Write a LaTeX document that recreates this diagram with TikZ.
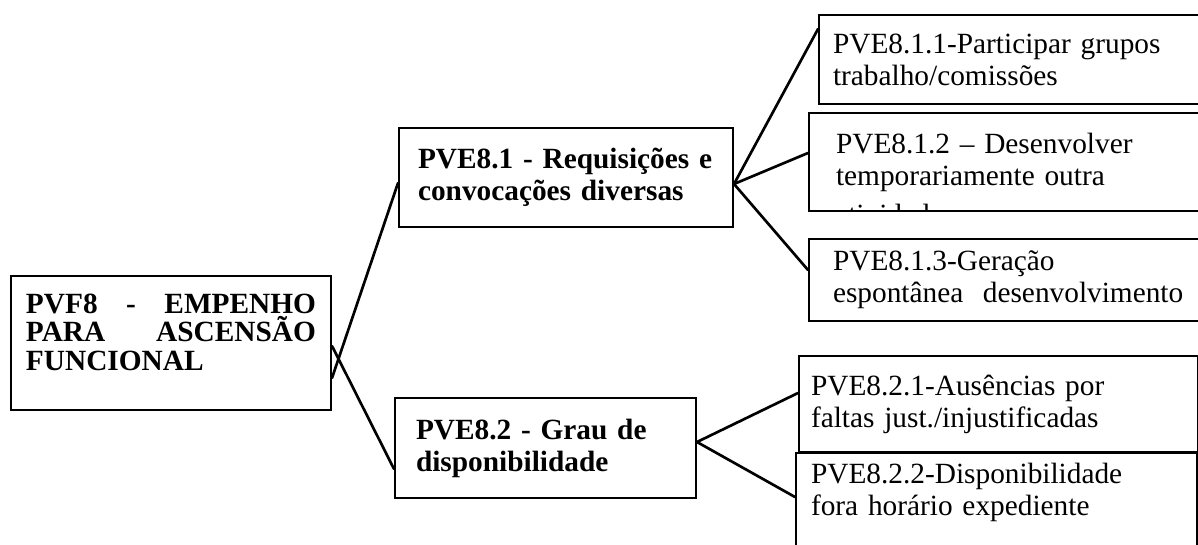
\documentclass[tikz,border=0pt]{standalone}
\usepackage{fontspec}
\setmainfont{Liberation Serif}
\usetikzlibrary{calc}

\begin{document}
\begin{tikzpicture}[x=0.75pt,y=0.75pt,yscale=-1,
  box/.style={draw, line width=1.5pt, anchor=north west, inner ysep=0pt, align=left,
    font=\fontsize{22}{24}\selectfont},
  head/.style={box, font=\fontsize{22}{24}\selectfont\bfseries},
  link/.style={line width=2pt, line cap=round}]
\useasboundingbox (0,0) rectangle (1198,545);
\fill[white] (0,0) rectangle (1198,545);
\clip (0,0) rectangle (1198,545);

% Root
\node[head, align=justify, font=\fontsize{22}{21.5}\selectfont\bfseries, inner xsep=11.25pt,
  text width=217.5pt, text height=27.75pt, text depth=72.75pt] (root) at (10,275)
  {\hyphenpenalty=10000 PVF8 - EMPENHO PARA ASCENSÃO FUNCIONAL};

% Second level
\node[head, inner xsep=14.25pt, text width=222pt, minimum height=74.25pt] (b81) at (398,127)
  {PVE8.1 - Requisições e\\convocações diversas};
\node[head, inner xsep=15.75pt, text width=194.25pt, minimum height=75pt] (b82) at (394,397)
  {PVE8.2 - Grau de\\disponibilidade};

% Leaves of PVE8.1
\node[box, inner xsep=10.5pt, text width=276.75pt, minimum height=66.75pt] (n811) at (818,14)
  {PVE8.1.1-Participar grupos\\trabalho/comissões};
\node[box, inner xsep=20.25pt, text width=264.75pt, minimum height=73.5pt] (n812) at (808,112)
  {PVE8.1.2 – Desenvolver\\temporariamente outra};
\begin{scope}
  \clip (n812.north west) rectangle (n812.south east);
  \node[font=\fontsize{22}{24}\selectfont, anchor=base west, inner sep=0pt] (n812x) at (835,224) {atividade};
\end{scope}
\node[box, inner xsep=18pt, text width=269.25pt, minimum height=61.5pt] (n813) at (808,238)
  {PVE8.1.3-Geração\\espontânea\ \ desenvolvimento};

% Leaves of PVE8.2
\node[box, inner xsep=9pt, text width=281.25pt, minimum height=72pt] (n821) at (798,355)
  {PVE8.2.1-Ausências por\\faltas just./injustificadas};
\node[box, inner xsep=11.25pt, text width=278.25pt, text height=22.5pt, text depth=58.5pt] (n822) at (795,452)
  {PVE8.2.2-Disponibilidade\\fora horário expediente};

% Connectors
\draw[link] ($(root.east)+(0,35)$) -- ($(b81.west)+(0,5.5)$);
\draw[link] ($(root.east)+(0,3)$) -- ($(b82.west)+(0,21)$);

\coordinate (f81) at ($(b81.east)+(0,6.5)$);
\draw[link] (f81) -- ($(n811.west)+(0,-30.5)$);
\draw[link] (f81) -- ($(n812.west)+(0,-9)$);
\draw[link] (f81) -- ($(n813.west)+(0,-10)$);

\coordinate (f82) at ($(b82.east)+(0,-6)$);
\draw[link] (f82) -- ($(n821.west)+(0,-11)$);
\draw[link] (f82) -- ($(n822.west)+(0,-10)$);

\end{tikzpicture}
\end{document}
